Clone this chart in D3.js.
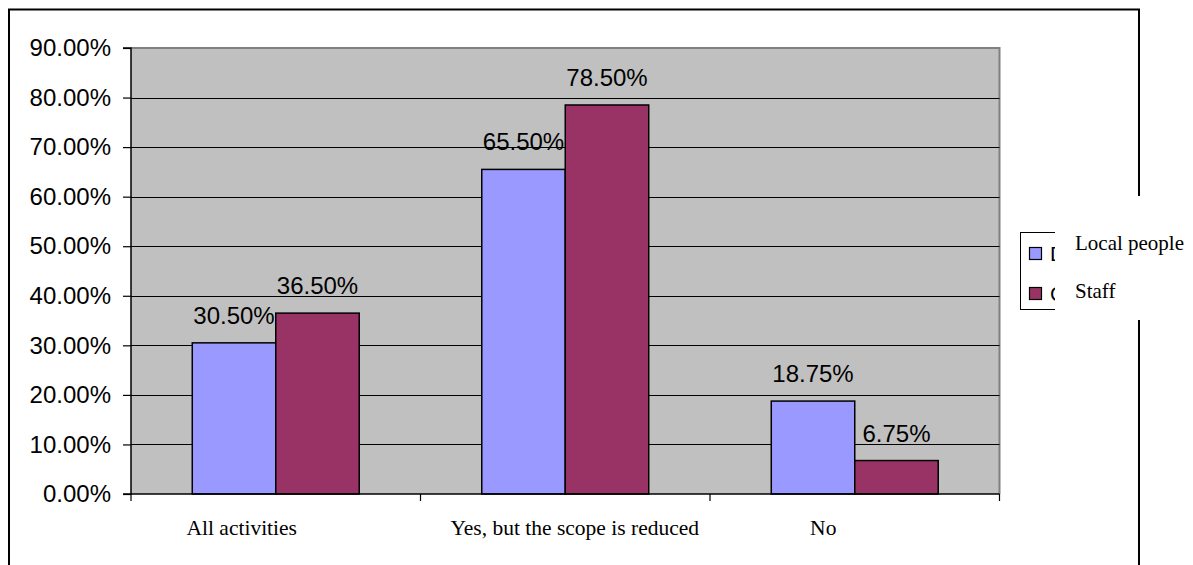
<!DOCTYPE html>
<html>
<head>
<meta charset="utf-8">
<script src="https://cdn.jsdelivr.net/npm/d3@7/dist/d3.min.js"></script>
<style>
  html, body { margin: 0; padding: 0; background: #ffffff; }
  svg { display: block; }
</style>
</head>
<body>
<svg id="chart" width="1193" height="565"></svg>
<script>
// Survey answers, by respondent group
const categories = ["All activities", "Yes, but the scope is reduced", "No"];
const seriesNames = ["Local people", "Staff"];
const localPeople = [0.305, 0.655, 0.1875];
const staff = [0.365, 0.785, 0.0675];
const yTicks = [0, 0.1, 0.2, 0.3, 0.4, 0.5, 0.6, 0.7, 0.8, 0.9];
// horizontal nudge of each category caption (px) relative to its band centre
const captionShift = [-34, 9.5, -31.5];

const seriesValues = [localPeople, staff];
const colors = ["#9999FF", "#993366"];

const svg = d3.select("#chart");

// Outer chart frame (runs past the bottom of the view)
svg.append("rect")
  .attr("x", 9).attr("y", 9.5)
  .attr("width", 1130).attr("height", 600)
  .attr("fill", "#ffffff")
  .attr("stroke", "#000000").attr("stroke-width", 2);

const plot = { left: 131, right: 999.5, top: 48, bottom: 494 };

const x0 = d3.scaleBand().domain(categories)
  .range([plot.left, plot.right]).paddingInner(0).paddingOuter(0);
const x1 = d3.scaleBand().domain(seriesNames)
  .range([0, x0.bandwidth()]).paddingInner(0).paddingOuter(0.734);
const y = d3.scaleLinear().domain([0, 0.9]).range([plot.bottom, plot.top]);

// Plot area
svg.append("rect")
  .attr("x", plot.left).attr("y", plot.top)
  .attr("width", plot.right - plot.left).attr("height", plot.bottom - plot.top)
  .attr("fill", "#C0C0C0");
svg.append("path")
  .attr("d", `M${plot.left},${plot.top}H${plot.right}V${plot.bottom}`)
  .attr("fill", "none").attr("stroke", "#808080").attr("stroke-width", 2);

// Gridlines
svg.append("g").selectAll("line")
  .data(yTicks.filter(t => t > 0 && t < 0.9))
  .join("line")
  .attr("x1", plot.left).attr("x2", plot.right)
  .attr("y1", d => Math.round(y(d)) + 0.5).attr("y2", d => Math.round(y(d)) + 0.5)
  .attr("stroke", "#000000").attr("stroke-width", 1);

// Bars
const groups = svg.append("g").selectAll("g")
  .data(categories)
  .join("g")
  .attr("transform", d => `translate(${x0(d)},0)`);

groups.selectAll("rect")
  .data((d, i) => seriesNames.map((s, j) => ({ s, j, v: seriesValues[j][i] })))
  .join("rect")
  .attr("x", d => x1(d.s))
  .attr("y", d => y(d.v))
  .attr("width", x1.bandwidth())
  .attr("height", d => y(0) - y(d.v))
  .attr("fill", d => colors[d.j])
  .attr("stroke", "#000000").attr("stroke-width", 1.5);

// Value labels
groups.selectAll("text")
  .data((d, i) => seriesNames.map((s, j) => ({ s, j, v: seriesValues[j][i] })))
  .join("text")
  .attr("x", d => x1(d.s) + x1.bandwidth() / 2)
  .attr("y", d => y(d.v) - 19)
  .attr("text-anchor", "middle")
  .attr("font-family", "Liberation Sans, Arial, sans-serif")
  .attr("font-size", 24)
  .attr("fill", "#000000")
  .text(d => d3.format(".2%")(d.v));

// Y axis
const yAxis = d3.axisLeft(y).tickValues(yTicks).tickFormat(d3.format(".2%"))
  .tickSize(8).tickPadding(12);
const gy = svg.append("g").attr("transform", `translate(${plot.left},0)`).call(yAxis);
gy.select(".domain").attr("stroke", "#000000").attr("stroke-width", 1.5)
  .attr("d", `M-8,${plot.top}H0V${plot.bottom}H-8`);
gy.selectAll(".tick line").attr("stroke", "#000000").attr("stroke-width", 1.2);
gy.selectAll(".tick text")
  .attr("font-family", "Liberation Sans, Arial, sans-serif")
  .attr("font-size", 24).attr("fill", "#000000");

// X axis: boundary ticks between categories
const boundaries = categories.map(c => x0(c)).concat([plot.right]);
const gx = svg.append("g");
gx.append("line")
  .attr("x1", plot.left).attr("x2", plot.right)
  .attr("y1", plot.bottom).attr("y2", plot.bottom)
  .attr("stroke", "#000000").attr("stroke-width", 1.5);
gx.selectAll("line.tick").data(boundaries).join("line")
  .attr("class", "tick")
  .attr("x1", d => d).attr("x2", d => d)
  .attr("y1", plot.bottom).attr("y2", plot.bottom + 7)
  .attr("stroke", "#000000").attr("stroke-width", 1.2);

// Category captions
svg.append("g").selectAll("text")
  .data(categories)
  .join("text")
  .attr("x", (d, i) => x0(d) + x0.bandwidth() / 2 + captionShift[i])
  .attr("y", 535)
  .attr("text-anchor", "middle")
  .attr("font-family", "Liberation Serif, Times New Roman, serif")
  .attr("font-size", 21.5)
  .attr("fill", "#000000")
  .text(d => d);

// Legend box with swatches
const legend = svg.append("g");
legend.append("rect")
  .attr("x", 1020.5).attr("y", 232.5).attr("width", 100).attr("height", 77)
  .attr("fill", "#ffffff").attr("stroke", "#000000").attr("stroke-width", 1);
const swatchY = [247, 287];
legend.selectAll("rect.sw").data(seriesNames).join("rect")
  .attr("class", "sw")
  .attr("x", 1029.5).attr("y", (d, i) => swatchY[i] + 0.5)
  .attr("width", 12).attr("height", 12)
  .attr("fill", (d, i) => colors[i])
  .attr("stroke", "#000000").attr("stroke-width", 1.2);
legend.selectAll("text.old").data(["D", "C"]).join("text")
  .attr("class", "old")
  .attr("x", 1050).attr("y", (d, i) => swatchY[i] + 14)
  .attr("font-family", "Liberation Sans, Arial, sans-serif")
  .attr("font-size", 21)
  .text(d => d);

// Text panel laid over the legend entries
legend.append("rect")
  .attr("x", 1055).attr("y", 196).attr("width", 120).attr("height", 124)
  .attr("fill", "#ffffff");
const nameY = [250, 298];
legend.selectAll("text.name").data(seriesNames).join("text")
  .attr("class", "name")
  .attr("x", 1075).attr("y", (d, i) => nameY[i])
  .attr("font-family", "Liberation Serif, Times New Roman, serif")
  .attr("font-size", 21)
  .attr("fill", "#000000")
  .text(d => d);
</script>
</body>
</html>
